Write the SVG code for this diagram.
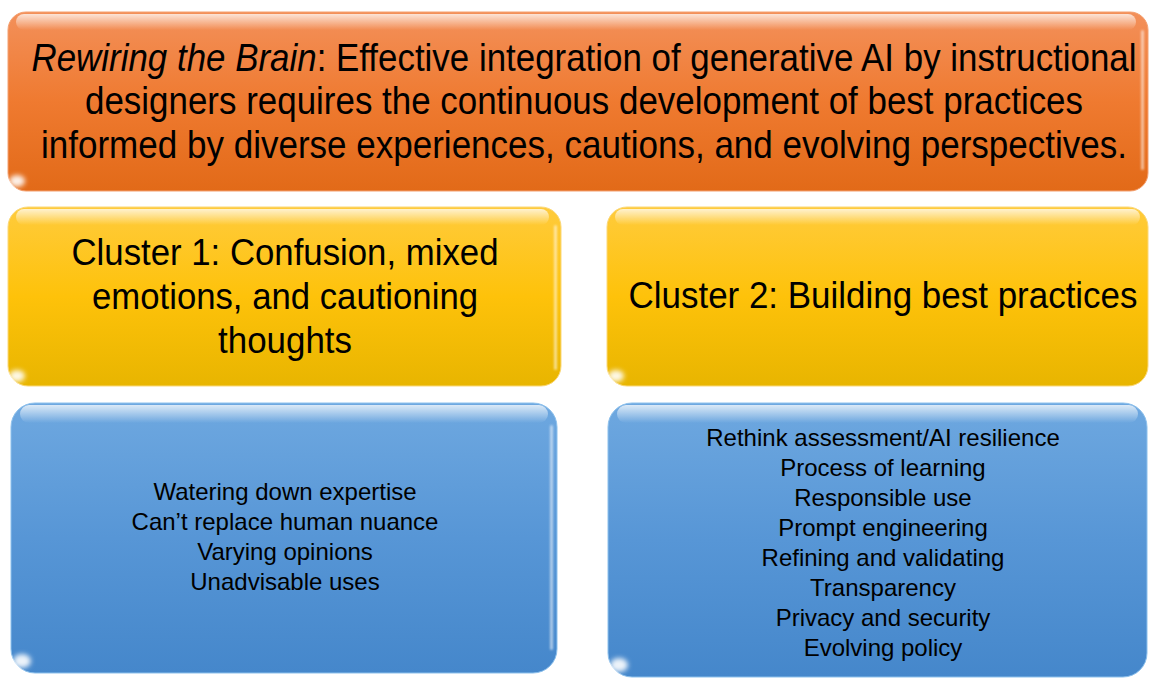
<svg xmlns="http://www.w3.org/2000/svg" width="1149" height="679" viewBox="0 0 1149 679">
  <defs>
    <linearGradient id="gOrange" x1="0" y1="0" x2="0" y2="1">
      <stop offset="0" stop-color="#F3905A"/>
      <stop offset="0.5" stop-color="#EF7A30"/>
      <stop offset="1" stop-color="#E26A18"/>
    </linearGradient>
    <linearGradient id="gYellow" x1="0" y1="0" x2="0" y2="1">
      <stop offset="0" stop-color="#FFCB3C"/>
      <stop offset="0.5" stop-color="#FEC20A"/>
      <stop offset="1" stop-color="#E8B500"/>
    </linearGradient>
    <linearGradient id="gBlue" x1="0" y1="0" x2="0" y2="1">
      <stop offset="0" stop-color="#6EA8E0"/>
      <stop offset="0.5" stop-color="#5796D6"/>
      <stop offset="1" stop-color="#4587CB"/>
    </linearGradient>
    <linearGradient id="gShine" x1="0" y1="0" x2="0" y2="1">
      <stop offset="0" stop-color="#FFFFFF" stop-opacity="0.75"/>
      <stop offset="1" stop-color="#FFFFFF" stop-opacity="0"/>
    </linearGradient>
    <filter id="soft" x="-50%" y="-50%" width="200%" height="200%">
      <feGaussianBlur stdDeviation="2.5"/>
    </filter>
    <filter id="softer" x="-50%" y="-50%" width="200%" height="200%">
      <feGaussianBlur stdDeviation="1.2"/>
    </filter>
  </defs>
  <style>
    .txt { font-family: "Liberation Sans", Arial, sans-serif; fill: #000; text-anchor: middle; }
    .title { font-size: 35px; }
    .head { font-size: 35px; }
    .item { font-size: 24px; }
    .shine { fill: url(#gShine); }
    .glow { fill: #FFFFFF; opacity: 0.9; filter: url(#soft); }
    .edge { fill: #FFFFFF; opacity: 0.55; filter: url(#softer); }
  </style>

  <rect width="1149" height="679" fill="#FFFFFF"/>

  <!-- Thesis banner -->
  <g id="thesis">
    <rect x="8" y="12" width="1140" height="179" rx="18" fill="url(#gOrange)" stroke="#F4A070" stroke-width="1"/>
    <rect x="16" y="14" width="1120" height="16" rx="8" class="shine"/>
    <rect x="1141" y="30" width="3" height="140" rx="1.5" class="edge"/>
    <ellipse cx="17" cy="181" rx="8" ry="6" class="glow"/>
    <!-- lines are set slightly tall, as in the slide's text box -->
    <g transform="translate(584,71) scale(1,1.09)">
      <text class="txt title" x="0" y="0" textLength="1105" lengthAdjust="spacingAndGlyphs"><tspan font-style="italic">Rewiring the Brain</tspan>: Effective integration of generative AI by instructional</text>
    </g>
    <g transform="translate(584,114) scale(1,1.09)">
      <text class="txt title" x="0" y="0" textLength="998" lengthAdjust="spacingAndGlyphs">designers requires the continuous development of best practices</text>
    </g>
    <g transform="translate(584,158) scale(1,1.09)">
      <text class="txt title" x="0" y="0" textLength="1086" lengthAdjust="spacingAndGlyphs">informed by diverse experiences, cautions, and evolving perspectives.</text>
    </g>
  </g>

  <!-- Cluster 1 heading -->
  <g id="cluster1">
    <rect x="8" y="207" width="553" height="179" rx="20" fill="url(#gYellow)" stroke="#FBD878" stroke-width="1"/>
    <rect x="16" y="209" width="533" height="16" rx="8" class="shine"/>
    <rect x="554" y="225" width="3" height="145" rx="1.5" class="edge"/>
    <ellipse cx="17" cy="376" rx="8" ry="6" class="glow"/>
    <g transform="translate(285,265) scale(1,1.08)">
      <text class="txt head" x="0" y="0" textLength="427" lengthAdjust="spacingAndGlyphs">Cluster 1: Confusion, mixed</text>
    </g>
    <g transform="translate(285,309) scale(1,1.08)">
      <text class="txt head" x="0" y="0" textLength="386" lengthAdjust="spacingAndGlyphs">emotions, and cautioning</text>
    </g>
    <g transform="translate(285,353) scale(1,1.08)">
      <text class="txt head" x="0" y="0" textLength="134" lengthAdjust="spacingAndGlyphs">thoughts</text>
    </g>
  </g>

  <!-- Cluster 2 heading -->
  <g id="cluster2">
    <rect x="607" y="207" width="541" height="179" rx="20" fill="url(#gYellow)" stroke="#FBD878" stroke-width="1"/>
    <rect x="615" y="209" width="525" height="16" rx="8" class="shine"/>
    <ellipse cx="616" cy="376" rx="8" ry="6" class="glow"/>
    <g transform="translate(883,308) scale(1,1.08)">
      <text class="txt head" x="0" y="0" textLength="509" lengthAdjust="spacingAndGlyphs">Cluster 2: Building best practices</text>
    </g>
  </g>

  <!-- Cluster 1 themes -->
  <g id="themes1">
    <rect x="11" y="403" width="546" height="270" rx="24" fill="url(#gBlue)" stroke="#8CC0EC" stroke-width="1"/>
    <rect x="20" y="405" width="528" height="18" rx="9" class="shine"/>
    <rect x="550" y="425" width="3" height="225" rx="1.5" class="edge"/>
    <ellipse cx="22" cy="661" rx="9" ry="7" class="glow"/>
    <text class="txt item" x="285" y="500">Watering down expertise</text>
    <text class="txt item" x="285" y="530">Can’t replace human nuance</text>
    <text class="txt item" x="285" y="560">Varying opinions</text>
    <text class="txt item" x="285" y="590">Unadvisable uses</text>
  </g>

  <!-- Cluster 2 themes -->
  <g id="themes2">
    <rect x="608" y="403" width="539" height="274" rx="24" fill="url(#gBlue)" stroke="#8CC0EC" stroke-width="1"/>
    <rect x="617" y="405" width="521" height="18" rx="9" class="shine"/>
    <ellipse cx="619" cy="665" rx="9" ry="7" class="glow"/>
    <text class="txt item" x="883" y="446">Rethink assessment/AI resilience</text>
    <text class="txt item" x="883" y="476">Process of learning</text>
    <text class="txt item" x="883" y="506">Responsible use</text>
    <text class="txt item" x="883" y="536">Prompt engineering</text>
    <text class="txt item" x="883" y="566">Refining and validating</text>
    <text class="txt item" x="883" y="596">Transparency</text>
    <text class="txt item" x="883" y="626">Privacy and security</text>
    <text class="txt item" x="883" y="656">Evolving policy</text>
  </g>
</svg>
